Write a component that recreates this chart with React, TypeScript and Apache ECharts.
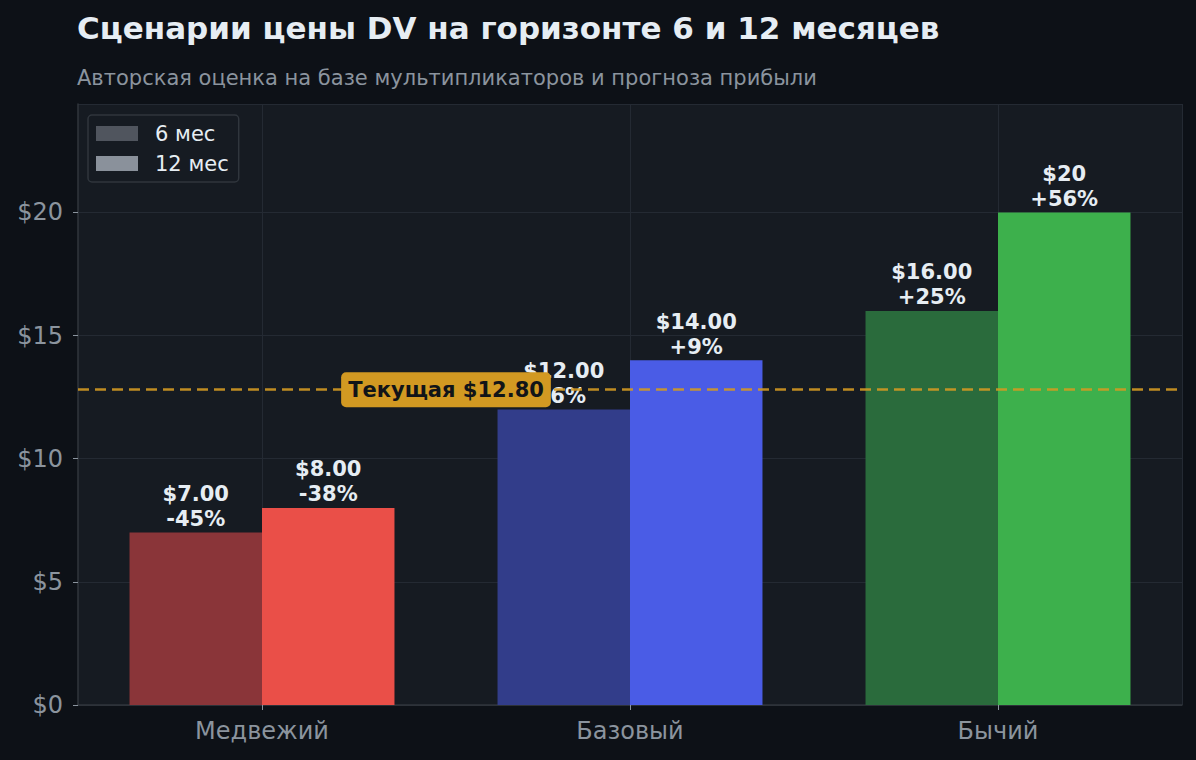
import { useEffect, useRef } from 'react';
import * as echarts from 'echarts';

const categories = ['Медвежий', 'Базовый', 'Бычий'];
const halfCategories = ['a', 'b', 'c', 'd', 'e', 'f'];
const price6 = [7, 12, 16];
const price12 = [8, 14, 20];
const priceText6 = ['$7.00', '$12.00', '$16.00'];
const priceText12 = ['$8.00', '$14.00', '$20'];
const pctText6 = ['-45%', '-6%', '+25%'];
const pctText12 = ['-38%', '+9%', '+56%'];
const colors6 = ['#8a3539', '#323d8a', '#2a6b3c'];
const colors12 = ['#ea4f48', '#4a5ce6', '#3db04c'];
const currentPrice = 12.8;
const yTicks = [0, 5, 10, 15, 20];
const yMax = 24.4;

const BG = '#0d1117';
const PANEL = '#161b22';
const GRID = '#242a33';
const TEXT = '#e6edf3';
const MUTED = '#8b949e';
const GOLD = '#d29922';

const FONT = '"DejaVu Sans", sans-serif';

export default function App() {
    const chartRef = useRef<HTMLDivElement>(null);

    useEffect(() => {
        if (!chartRef.current) return;
        const chart = echarts.init(chartRef.current, null, { renderer: 'svg' });

        const labelFor = (prices: string[], pcts: string[]) => ({
            show: true,
            position: 'top',
            distance: 1,
            formatter: (p: any) => `${prices[p.dataIndex]}\n${pcts[p.dataIndex]}`,
            color: TEXT,
            fontFamily: FONT,
            fontWeight: 'bold',
            fontSize: 21,
            lineHeight: 25
        });

        chart.setOption({
            animation: false,
            backgroundColor: BG,
            textStyle: { fontFamily: FONT },
            title: [
                {
                    text: 'Сценарии цены DV на горизонте 6 и 12 месяцев',
                    left: 72,
                    top: 7,
                    textStyle: { color: TEXT, fontSize: 31, fontWeight: 'bold', fontFamily: FONT }
                },
                {
                    text: 'Авторская оценка на базе мультипликаторов и прогноза прибыли',
                    left: 72,
                    top: 62,
                    textStyle: { color: MUTED, fontSize: 21, fontWeight: 'normal', fontFamily: FONT }
                }
            ],
            legend: {
                orient: 'vertical',
                left: 88,
                top: 115,
                padding: [8, 10, 8, 8],
                itemWidth: 42,
                itemHeight: 15,
                itemGap: 9,
                icon: 'rect',
                backgroundColor: PANEL,
                borderColor: '#30363d',
                borderWidth: 1.5,
                borderRadius: 4,
                textStyle: { color: TEXT, fontSize: 21, fontFamily: FONT, padding: [0, 0, 0, 12] },
                data: ['6 мес', '12 мес']
            },
            grid: {
                left: 78,
                right: 14,
                top: 104,
                bottom: 55,
                show: true,
                backgroundColor: PANEL,
                borderWidth: 0
            },
            xAxis: [
                {
                    type: 'category',
                    data: categories,
                    axisLine: { show: true, lineStyle: { color: '#30363d', width: 1.5 } },
                    axisTick: { show: true, alignWithLabel: true, length: 5, lineStyle: { color: MUTED } },
                    axisLabel: { color: MUTED, fontSize: 24, margin: 14, fontFamily: FONT },
                    splitLine: { show: false }
                },
                {
                    type: 'category',
                    data: halfCategories,
                    position: 'bottom',
                    axisLine: { show: false },
                    axisTick: { show: false },
                    axisLabel: { show: false },
                    splitLine: {
                        show: true,
                        interval: (i: number) => i % 2 === 1,
                        lineStyle: { color: GRID, width: 1 }
                    }
                }
            ],
            yAxis: {
                type: 'value',
                min: 0,
                max: yMax,
                interval: 5,
                axisLine: { show: true, lineStyle: { color: '#30363d', width: 1.5 } },
                axisTick: { show: true, length: 5, lineStyle: { color: MUTED } },
                axisLabel: {
                    color: MUTED,
                    fontSize: 24,
                    margin: 15,
                    fontFamily: FONT,
                    showMaxLabel: false,
                    formatter: (v: number) => (yTicks.includes(v) ? `$${v}` : '')
                },
                splitLine: { show: true, lineStyle: { color: GRID, width: 1 } }
            },
            series: [
                {
                    name: '6 мес',
                    type: 'bar',
                    barWidth: '36%',
                    barGap: '0%',
                    itemStyle: { color: '#50555e' },
                    data: price6.map((v, i) => ({ value: v, itemStyle: { color: colors6[i] } })),
                    label: labelFor(priceText6, pctText6),
                    z: 3
                },
                {
                    name: '12 мес',
                    type: 'bar',
                    barWidth: '36%',
                    barGap: '0%',
                    itemStyle: { color: '#8a919b' },
                    data: price12.map((v, i) => ({ value: v, itemStyle: { color: colors12[i] } })),
                    label: labelFor(priceText12, pctText12),
                    markLine: {
                        silent: true,
                        symbol: 'none',
                        label: { show: false },
                        lineStyle: { color: GOLD, type: [11, 6], width: 2.5, opacity: 0.9 },
                        data: [{ yAxis: currentPrice }]
                    },
                    z: 3
                }
            ]
        });

        const x0 = chart.convertToPixel({ xAxisIndex: 0 }, categories[0]) as number;
        const x1 = chart.convertToPixel({ xAxisIndex: 0 }, categories[1]) as number;
        const yc = chart.convertToPixel({ yAxisIndex: 0 }, currentPrice) as number;

        chart.setOption({
            graphic: [
                {
                    type: 'text',
                    x: (x0 + x1) / 2,
                    y: yc,
                    z: 100,
                    style: {
                        text: `Текущая $${currentPrice.toFixed(2)}`,
                        fontFamily: FONT,
                        fontWeight: 'bold',
                        fontSize: 21,
                        fill: '#111418',
                        align: 'center',
                        verticalAlign: 'middle',
                        backgroundColor: GOLD,
                        padding: [7, 7, 7, 7],
                        borderRadius: 5
                    }
                }
            ]
        });

        return () => chart.dispose();
    }, []);

    return (
        <div
            ref={chartRef}
            style={{ position: 'fixed', left: 0, top: 0, width: 1196, height: 760 }}
        />
    );
}
